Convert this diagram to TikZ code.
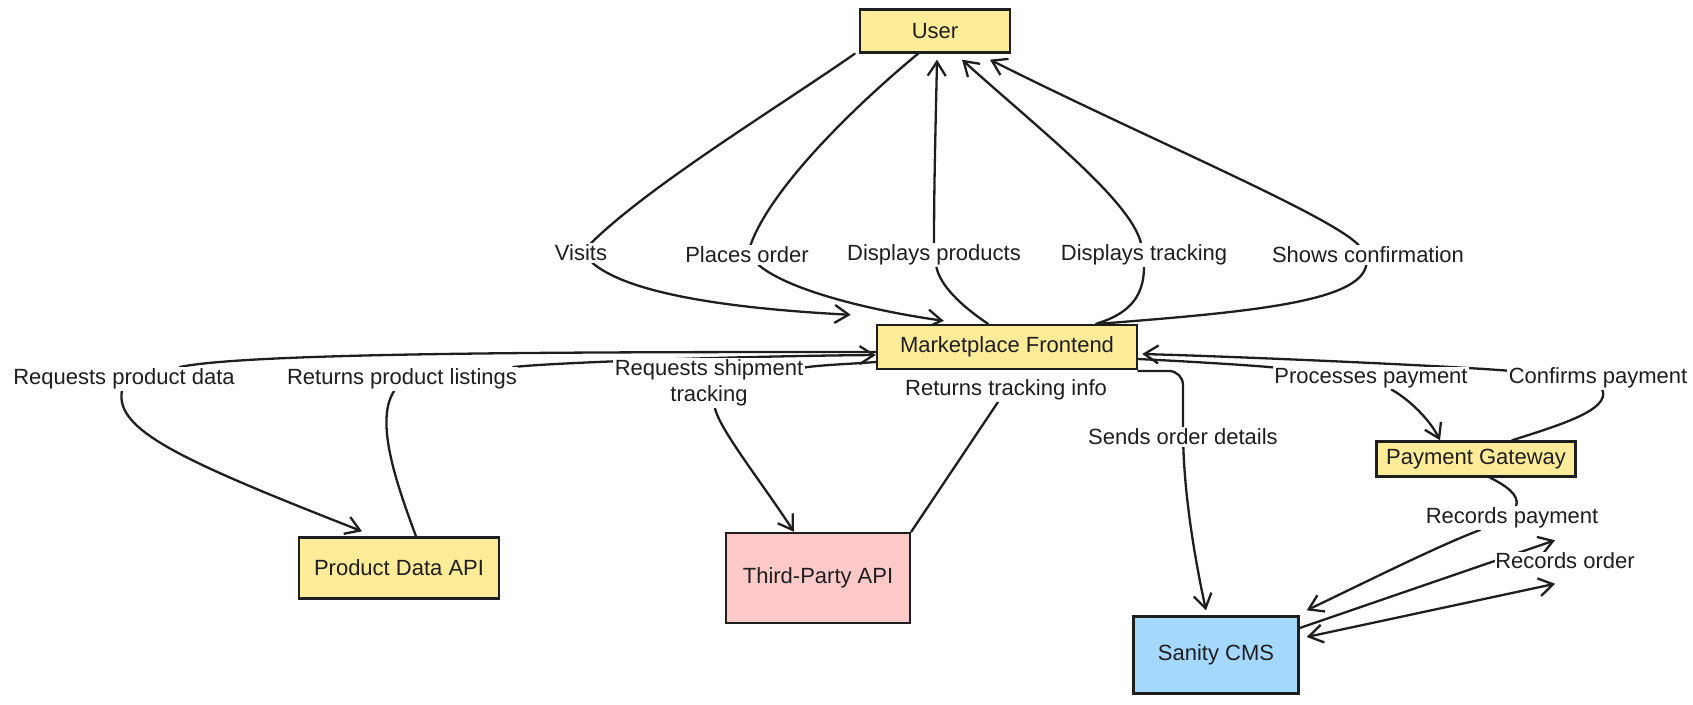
\documentclass[tikz,border=0pt]{standalone}
\usepackage{fontspec}
\setmainfont{Liberation Sans}
\usetikzlibrary{arrows.meta}
\pgfdeclarelayer{edges}
\pgfsetlayers{edges,main}

\definecolor{ink}{HTML}{1E1E1E}
\definecolor{boxyellow}{HTML}{FFEC99}
\definecolor{boxpink}{HTML}{FFC9C9}
\definecolor{boxblue}{HTML}{A5D8FF}

\tikzset{
  box/.style={draw=ink, line width=2.4pt, fill=boxyellow, inner sep=4pt,
    font=\fontsize{22}{26}\selectfont, text=ink},
  lbl/.style={fill=white, inner sep=1.5pt, align=center,
    font=\fontsize{22}{26}\selectfont, text=ink},
  link/.style={draw=ink, line width=2.3pt, line cap=round},
  arr/.style={link, -{Straight Barb[length=14pt,width=18pt]}},
  arrboth/.style={link, {Straight Barb[length=14pt,width=18pt]}-{Straight Barb[length=14pt,width=18pt]}}
}

\begin{document}
\begin{tikzpicture}[x=1pt, y=-1pt]
\useasboundingbox (0,0) rectangle (1693,704);

% systems
\node[box, minimum width=150pt, minimum height=43pt] (user) at (935,31) {User};
\node[box, minimum width=260pt, minimum height=44pt] (front) at (1007,347) {Marketplace Frontend};
\node[box, minimum width=200pt, minimum height=61pt] (pdapi) at (399,568) {Product Data API};
\node[box, fill=boxpink, minimum width=184pt, minimum height=90pt] (tpapi) at (818,578) {Third-Party API};
\node[box, fill=boxblue, minimum width=165pt, minimum height=77pt] (sanity) at (1216,655) {Sanity CMS};
\node[box, minimum width=199pt, minimum height=35pt] (pay) at (1476,459) {Payment Gateway};

% connector labels
\node[lbl] (lv)   at (581,253)  {Visits};
\node[lbl] (lpo)  at (747,255)  {Places order};
\node[lbl] (ldp)  at (934,255)  {Displays products};
\node[lbl] (ldt)  at (1144,255) {Displays tracking};
\node[lbl] (lsc)  at (1368,255) {Shows confirmation};
\node[lbl] (lrpd) at (124,379)  {Requests product data};
\node[lbl] (lrpl) at (402,379)  {Returns product listings};
\node[lbl] (lrst) at (709,383)  {Requests shipment\\tracking};
\node[lbl] (lrti) at (1006,390) {Returns tracking info};
\node[lbl] (lsod) at (1183,437) {Sends order details};
\node[lbl] (lpp)  at (1371,378) {Processes payment};
\node[lbl] (lcp)  at (1598,378) {Confirms payment};
\node[lbl] (lrp)  at (1512,518) {Records payment};
\node[lbl, inner sep=0.5pt] (lro) at (1565,561) {Records order};

\begin{pgfonlayer}{edges}
% user <-> frontend
\draw[arr] ([xshift=-4pt]user.south west) .. controls (780,106) and (650,185) .. (lv)
  .. controls (626,292) and (720,308) .. ([xshift=-25pt,yshift=9pt]front.north west);
\draw[arr] ([xshift=-17pt]user.south) .. controls (850,110) and (770,190) .. (lpo)
  .. controls (790,292) and (880,312) .. ([xshift=68pt,yshift=3pt]front.north west);
\draw[arr] ([xshift=-19pt]front.north) .. controls (960,305) and (940,285) .. (ldp)
  .. controls (934,180) and (936,110) .. ([xshift=2pt,yshift=-6pt]user.south);
\draw[arr] ([xshift=89pt]front.north) .. controls (1125,315) and (1144,300) .. (ldt)
  .. controls (1130,200) and (1040,130) .. ([xshift=27pt,yshift=-6pt]user.south);
\draw[arr] ([xshift=92pt]front.north) .. controls (1250,312) and (1360,302) .. (lsc)
  .. controls (1330,215) and (1150,140) .. ([xshift=55pt,yshift=-6pt]user.south);

% frontend <-> product data api
\draw[arr] ([yshift=-5pt]front.west) .. controls (600,352) and (250,352) .. (lrpd)
  .. controls (115,430) and (180,460) .. ([xshift=-37pt,yshift=5pt]pdapi.north);
\draw[arr] ([xshift=17pt]pdapi.north) .. controls (395,480) and (375,420) .. (lrpl)
  .. controls (560,362) and (750,356) .. ([yshift=-8pt]front.west);

% frontend <-> third-party api
\draw[arr] ([yshift=-15pt]front.west) .. controls (850,364) and (820,365) .. (lrst)
  .. controls (720,430) and (760,480) .. ([xshift=-24pt]tpapi.north);
\draw[link] (tpapi.north east) -- (lrti);

% frontend -> sanity
\draw[arr] ([yshift=-24pt]front.east) [rounded corners=14pt] -| (lsod) [sharp corners]
  .. controls (1185,500) and (1195,560) .. ([xshift=-10pt,yshift=5pt]sanity.north);

% frontend <-> payment gateway
\draw[arr] ([yshift=-12pt]front.east) .. controls (1200,362) and (1260,366) .. (lpp)
  .. controls (1410,400) and (1430,420) .. ([xshift=-36pt]pay.north);
\draw[arr] ([xshift=36pt]pay.north) .. controls (1560,425) and (1610,410) .. (lcp)
  .. controls (1450,366) and (1250,357) .. ([xshift=4pt,yshift=-7pt]front.east);

% payment gateway -> sanity
\draw[arr] ([xshift=14pt]pay.south) .. controls (1505,485) and (1520,495) .. (lrp)
  .. controls (1440,545) and (1370,580) .. ([xshift=7pt,yshift=5pt]sanity.north east);

% sanity order records
\draw[arr] ([yshift=27pt]sanity.east) -- ([xshift=-10pt,yshift=12pt]lro.north);
\draw[arrboth] ([xshift=-10pt,yshift=-14pt]lro.south) -- ([xshift=7pt,yshift=18pt]sanity.east);
\end{pgfonlayer}
\end{tikzpicture}
\end{document}
